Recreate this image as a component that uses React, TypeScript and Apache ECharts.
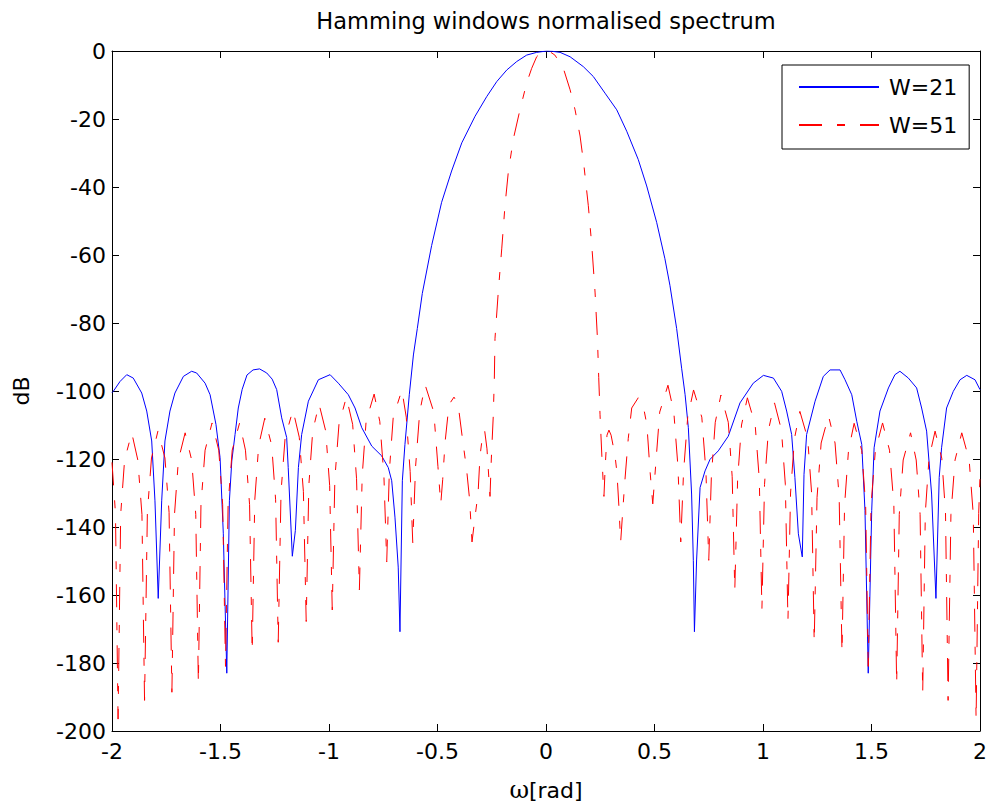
import React, { useEffect, useRef } from 'react';
import * as echarts from 'echarts';

const FONT = '"DejaVu Sans", "Liberation Sans", sans-serif';

const titleText = 'Hamming windows normalised spectrum';
const xName = '{g|ω}[rad]';
const yName = 'dB';
const seriesNames = ['W=21', 'W=51'];

// W=21 (blue, solid) : [omega, dB]
const w21Left = [
  [-2.0, -100.5], [-1.994, -100.1], [-1.963, -97.2], [-1.932, -95.2], [-1.902, -96.2], [-1.863, -100.6], [-1.84, -105.9], [-1.817, -114.7], [-1.802, -132.3], [-1.787, -161],
  [-1.771, -132.3], [-1.756, -114.7], [-1.733, -105.9], [-1.71, -100.6], [-1.671, -95.7], [-1.633, -94.2], [-1.61, -94.7], [-1.571, -97.7], [-1.548, -101.1], [-1.521, -109.8], [-1.502, -119.6], [-1.487, -142], [-1.471, -183],
  [-1.459, -132.3], [-1.448, -120.6], [-1.433, -112.8], [-1.418, -105], [-1.4, -99.5], [-1.378, -95.3], [-1.35, -93.8], [-1.32, -93.5], [-1.287, -94.7], [-1.262, -96.5], [-1.241, -99.6], [-1.218, -107.9], [-1.195, -113.7], [-1.188, -122.5], [-1.169, -148.6],
  [-1.155, -141], [-1.141, -122.5], [-1.126, -112.8], [-1.095, -103], [-1.049, -96.7], [-0.995, -95.2], [-0.957, -97.7], [-0.911, -101.1], [-0.88, -105], [-0.849, -110.8], [-0.803, -116.2], [-0.757, -119.1], [-0.727, -122.5], [-0.711, -126.4], [-0.696, -137.1], [-0.681, -151.8], [-0.673, -170.8],
  [-0.662, -126.4], [-0.65, -115.7], [-0.63, -101.1], [-0.611, -89.4], [-0.593, -81.6],
];
const w21Main = [
  [-0.57, -71.3], [-0.527, -57.2], [-0.481, -44.5], [-0.435, -35.3], [-0.388, -27], [-0.327, -19.2], [-0.273, -13.4], [-0.227, -9], [-0.181, -5.6], [-0.135, -3.1], [-0.089, -1.2], [-0.043, -0.4], [0.003, 0],
  [0.03, -0.1], [0.065, -0.4], [0.111, -1.7], [0.172, -4.6], [0.218, -7.5], [0.272, -12.4], [0.326, -17.3], [0.372, -23.6], [0.425, -31.9], [0.464, -39.7], [0.51, -50.4], [0.548, -61.1], [0.571, -68.9],
];
const w21Right = [
  [0.602, -81.6], [0.625, -93.3], [0.641, -101.1], [0.656, -110.8], [0.671, -130.3], [0.679, -149.8], [0.684, -170.8],
  [0.694, -149.7], [0.71, -128.4], [0.733, -123.5], [0.756, -120.1], [0.794, -117.6], [0.84, -113.3], [0.894, -103.5], [0.955, -97.7], [1.002, -95.4], [1.048, -96.2], [1.086, -100.1], [1.109, -105.9], [1.132, -112.8], [1.147, -125.4], [1.163, -142], [1.181, -148.8],
  [1.189, -124.5], [1.201, -112.8], [1.24, -103], [1.278, -95.7], [1.309, -93.8], [1.355, -93.8], [1.378, -96.7], [1.409, -101.1], [1.432, -108.9], [1.455, -115.7], [1.47, -135.2], [1.485, -183],
  [1.501, -135.2], [1.512, -116.7], [1.539, -105.9], [1.578, -99.1], [1.608, -95.2], [1.631, -94.2], [1.67, -96.2], [1.708, -99.1], [1.731, -105], [1.754, -111.8], [1.777, -130.3], [1.797, -161],
  [1.812, -125.4], [1.823, -116.7], [1.846, -105], [1.877, -100.1], [1.908, -96.7], [1.939, -95.4], [1.977, -96.7], [2.0, -99.6],
];

// W=51 (red, dash-dot) : [omega, dB]
const w51Left = [
  [-2.0, -121], [-1.984, -136], [-1.972, -196.5],
  [-1.96, -136.3], [-1.942, -120.3], [-1.909, -112.3], [-1.881, -120.3], [-1.862, -136.3], [-1.85, -191],
  [-1.837, -135.7], [-1.818, -119.7], [-1.788, -111.7], [-1.756, -119.7], [-1.737, -135.7], [-1.724, -188.6],
  [-1.712, -136.3], [-1.694, -120.3], [-1.663, -112.3], [-1.633, -120.3], [-1.614, -136.3], [-1.602, -186],
  [-1.59, -133.4], [-1.571, -117.4], [-1.539, -109.4], [-1.508, -117.4], [-1.49, -133.4], [-1.477, -181],
  [-1.465, -133.4], [-1.446, -117.4], [-1.412, -109.4], [-1.385, -117.4], [-1.366, -133.4], [-1.354, -176.6],
  [-1.342, -132], [-1.324, -116], [-1.296, -108], [-1.264, -116], [-1.246, -132], [-1.234, -173.9],
  [-1.221, -129.6], [-1.202, -113.6], [-1.166, -105.6], [-1.137, -113.6], [-1.118, -129.6], [-1.105, -167.8],
  [-1.093, -127.8], [-1.075, -111.8], [-1.046, -103.8], [-1.015, -111.8], [-0.997, -127.8], [-0.985, -164.4],
  [-0.973, -125.8], [-0.954, -109.8], [-0.92, -101.8], [-0.891, -109.8], [-0.873, -125.8], [-0.86, -158.5],
  [-0.847, -124.9], [-0.829, -108.9], [-0.792, -100.9], [-0.766, -108.9], [-0.747, -124.9], [-0.734, -150.3],
  [-0.722, -123.7], [-0.704, -107.7], [-0.664, -99.7], [-0.644, -107.7], [-0.626, -123.7], [-0.614, -144.6],
  [-0.601, -122.2], [-0.582, -106.2], [-0.557, -98.2], [-0.517, -106.2], [-0.498, -122.2], [-0.485, -133.2],
  [-0.476, -126], [-0.465, -115], [-0.447, -104], [-0.424, -101.8], [-0.405, -104], [-0.385, -114], [-0.366, -123], [-0.352, -132], [-0.341, -144.4],
  [-0.327, -137], [-0.313, -130], [-0.304, -119], [-0.29, -112], [-0.283, -111.5], [-0.272, -117], [-0.264, -125], [-0.258, -131],
];
const w51Main = [
  [-0.252, -120], [-0.243, -107.3], [-0.238, -96.2], [-0.235, -84.5], [-0.22, -70.9], [-0.204, -58.2], [-0.189, -45.5], [-0.174, -35.8], [-0.151, -26], [-0.12, -17.3], [-0.089, -9.4], [-0.066, -5.1], [-0.043, -1.7], [-0.02, -0.3], [0.003, 0],
  [0.02, -0.3], [0.041, -1.2], [0.08, -5.1], [0.111, -11.4], [0.134, -17.3], [0.157, -25], [0.175, -33.8], [0.195, -45.5], [0.211, -57.2], [0.226, -70.9], [0.237, -84.5], [0.243, -96], [0.249, -107], [0.258, -120],
];
const w51Right = [
  [0.267, -131], [0.273, -122], [0.281, -113], [0.29, -111.5], [0.3, -113], [0.318, -119], [0.327, -124], [0.336, -134], [0.344, -144.4],
  [0.355, -134], [0.364, -126], [0.379, -114], [0.395, -105], [0.425, -102], [0.45, -105], [0.465, -110], [0.48, -124], [0.492, -133.2],
  [0.505, -122.2], [0.524, -106.2], [0.562, -98.3], [0.589, -106.2], [0.608, -122.2], [0.621, -144.4],
  [0.634, -123.7], [0.653, -107.7], [0.68, -99.7], [0.718, -107.7], [0.737, -123.7], [0.75, -149.8],
  [0.762, -125.2], [0.78, -109.2], [0.806, -101.2], [0.84, -109.2], [0.858, -125.2], [0.87, -158.6],
  [0.883, -126], [0.901, -110], [0.928, -102], [0.964, -110], [0.983, -126], [0.995, -164.2],
  [1.007, -127.5], [1.025, -111.5], [1.053, -103.5], [1.085, -111.5], [1.103, -127.5], [1.115, -167.5],
  [1.127, -130], [1.145, -114], [1.17, -106], [1.206, -114], [1.224, -130], [1.236, -173.9],
  [1.249, -131.3], [1.268, -115.3], [1.302, -107.3], [1.332, -115.3], [1.351, -131.3], [1.364, -176.9],
  [1.376, -133.5], [1.394, -117.5], [1.42, -109.5], [1.455, -117.5], [1.473, -133.5], [1.485, -181],
  [1.498, -133.4], [1.518, -117.4], [1.551, -109.4], [1.583, -117.4], [1.603, -133.4], [1.616, -186.2],
  [1.628, -136.3], [1.646, -120.3], [1.68, -112.3], [1.706, -120.3], [1.724, -136.3], [1.736, -188.8],
  [1.748, -135.8], [1.765, -119.8], [1.793, -111.8], [1.824, -119.8], [1.841, -135.8], [1.853, -191],
  [1.866, -136.3], [1.885, -120.3], [1.916, -112.3], [1.95, -120.3], [1.969, -136.3], [1.982, -196.6],
  [1.994, -136], [2.0, -125],
];

const w21 = [...w21Left, ...w21Main, ...w21Right];
const w51 = [...w51Left, ...w51Main, ...w51Right];

const axisLine = { show: true, onZero: false, lineStyle: { color: '#000', width: 1 } };
const tick = { show: true, inside: true, length: 7, lineStyle: { color: '#000', width: 1 } };
const label = { fontFamily: FONT, fontSize: 22, color: '#000' };

export default function App() {
  const ref = useRef<HTMLDivElement>(null);
  useEffect(() => {
    const chart = echarts.init(ref.current as HTMLDivElement, null, { renderer: 'svg' });
    chart.setOption({
      animation: false,
      backgroundColor: '#ffffff',
      title: {
        text: titleText,
        left: 546,
        top: 9,
        textAlign: 'center',
        padding: 0,
        textStyle: { fontFamily: FONT, fontSize: 22.5, fontWeight: 'normal', color: '#000' },
      },
      legend: {
        orient: 'vertical',
        left: 782,
        top: 65,
        padding: [10, 12, 12, 16],
        itemGap: 14,
        itemWidth: 80,
        itemHeight: 24,
        backgroundColor: '#ffffff',
        borderColor: '#000',
        borderWidth: 1,
        borderRadius: 0,
        data: seriesNames,
        itemStyle: { opacity: 0, borderWidth: 0 },
        textStyle: { fontFamily: FONT, fontSize: 22, color: '#000', lineHeight: 24, padding: [0, 0, 0, 5] },
      },
      grid: { left: 112, top: 51, width: 868, height: 684, containLabel: false },
      xAxis: [
        {
          type: 'value', min: -2, max: 2, interval: 0.5, position: 'bottom',
          axisLine, axisTick: tick, splitLine: { show: false },
          axisLabel: { ...label, margin: 9 },
          name: xName, nameLocation: 'middle', nameGap: 47,
          nameTextStyle: {
            fontFamily: FONT, fontSize: 22, color: '#000',
            rich: { g: { fontFamily: '"DejaVu Serif", serif', fontSize: 24, color: '#000' } },
          },
        },
        {
          type: 'value', min: -2, max: 2, interval: 0.5, position: 'top',
          axisLine, axisTick: tick, splitLine: { show: false }, axisLabel: { show: false },
        },
      ],
      yAxis: [
        {
          type: 'value', min: -200, max: 0, interval: 20, position: 'left',
          axisLine, axisTick: tick, splitLine: { show: false },
          axisLabel: { ...label, margin: 6 },
          name: yName, nameLocation: 'middle', nameGap: 80,
          nameTextStyle: { fontFamily: FONT, fontSize: 22, color: '#000' },
        },
        {
          type: 'value', min: -200, max: 0, interval: 20, position: 'right',
          axisLine, axisTick: tick, splitLine: { show: false }, axisLabel: { show: false },
        },
      ],
      series: [
        {
          name: seriesNames[0], type: 'line', data: w21, symbol: 'none', showSymbol: false,
          xAxisIndex: 0, yAxisIndex: 0,
          lineStyle: { color: '#0000ff', width: 1 }, itemStyle: { color: '#0000ff' },
        },
        {
          name: seriesNames[1], type: 'line', data: w51, symbol: 'none', showSymbol: false,
          xAxisIndex: 0, yAxisIndex: 0,
          lineStyle: { color: '#ff0000', width: 1, type: [23, 15, 8, 15] }, itemStyle: { color: '#ff0000' },
        },
      ],
    });
    return () => chart.dispose();
  }, []);
  return (
    <div
      ref={ref}
      style={{ position: 'fixed', left: 0, top: 0, width: 990, height: 807, background: '#fff' }}
    />
  );
}
